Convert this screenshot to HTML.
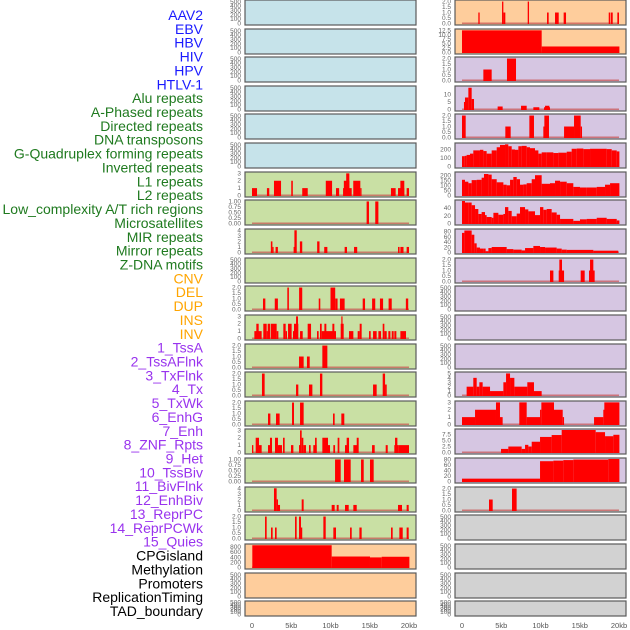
<!DOCTYPE html>
<html><head><meta charset="utf-8">
<style>
html,body{margin:0;padding:0;background:#fff;width:630px;height:630px;overflow:hidden}
svg{display:block;font-family:"Liberation Sans",sans-serif}
</style></head>
<body>
<svg id="chart" width="630" height="630" viewBox="0 0 630 630">
<g id="labels"></g>
<g id="panels"></g>
<g id="xaxes"></g>
</svg>
<script>
// ---- track labels ----
const labelNames = ["AAV2","EBV","HBV","HIV","HPV","HTLV-1","Alu repeats","A-Phased repeats","Directed repeats","DNA transposons","G-Quadruplex forming repeats","Inverted repeats","L1 repeats","L2 repeats","Low_complexity A/T rich regions","Microsatellites","MIR repeats","Mirror repeats","Z-DNA motifs","CNV","DEL","DUP","INS","INV","1_TssA","2_TssAFlnk","3_TxFlnk","4_Tx","5_TxWk","6_EnhG","7_Enh","8_ZNF_Rpts","9_Het","10_TssBiv","11_BivFlnk","12_EnhBiv","13_ReprPC","14_ReprPCWk","15_Quies","CPGisland","Methylation","Promoters","ReplicationTiming","TAD_boundary"];
const labelGroups = [6,13,5,15,5];
const groupColors = ["#1a1aff","#1f7a1f","#ffa500","#9933ee","#000000"];

// ---- axis tick arrays ----
const ticksEmpty = ["0","100","200","300","400","500"];
const ticksEmptyVals = [0,100,200,300,400,500];
const ticks3 = [0,1,2,3];
const ticks4 = [0,1,2,3,4];
const ticks5 = [0,1,2,3,4,5];
const ticks2 = [0,0.5,1,1.5,2];
const ticks1 = [0,0.25,0.5,0.75,1];

// ---- data: [startKb, endKb, value] ----
const L6 = [[0,0.64,1],[1.9,2.2,1],[2.8,3.7,2],[5.0,5.2,2],[6.4,7.1,1],[9.4,10.2,2],[10.7,11.1,1],[11.6,12.7,1],[11.7,12.4,2],[12.0,12.4,3],[12.9,13.8,2],[13.8,13.9,1],[17.7,18.3,1],[18.6,19.4,1],[18.9,19.4,2],[19.7,20,1]];
const L7 = [[14.6,14.9,1],[15.7,16.1,1]];
const L8 = [[2.4,2.6,2],[2.6,2.75,1],[3.0,3.3,1],[5.3,5.4,1],[5.4,5.7,4],[6.1,6.4,2],[8.3,8.6,2],[9.2,9.6,1],[11.8,12.1,1],[13.0,13.4,1],[18.6,18.8,1],[18.9,19.3,1],[19.7,20,1]];
const L10 = [[1.4,1.7,1],[2.9,3.3,1],[4.5,4.7,2],[6.0,6.4,2],[8.5,8.7,1],[10.0,10.6,2],[10.6,10.9,1],[11.2,11.8,1],[14.1,14.4,1],[15.3,15.7,1],[16.3,16.7,1],[17.4,17.8,1],[19.6,19.9,1]];
const L11 = [[0.3,1.23,1],[0.55,0.85,2],[1.44,1.87,2],[1.87,2.0,1],[2.0,2.29,2],[2.38,3.14,2],[3.14,3.36,1],[3.99,4.29,2],[4.29,4.46,1],[4.59,5.05,2],[5.22,5.48,1],[5.35,5.9,2],[5.61,5.86,3],[6.12,6.46,1],[7.09,7.52,2],[8.28,8.49,1],[8.66,8.88,2],[8.88,10.7,1],[9.22,9.47,2],[10.24,10.49,2],[11.3,11.68,2],[11.38,11.51,3],[12.36,12.91,1],[13.46,13.72,1],[13.72,13.97,2],[14.91,15.12,1],[15.42,15.88,1],[16.1,16.44,1],[16.65,16.86,2],[16.86,17.16,1],[17.37,17.63,1],[17.8,18.05,1],[18.13,18.39,1],[18.9,19.62,1]];
const L12 = [[5.99,6.58,1],[7.0,7.35,1],[8.96,9.6,2]];
const L13 = [[1.27,1.61,2],[5.61,5.9,1],[7.26,7.69,1],[8.66,8.96,2],[15.42,15.88,1],[16.65,16.95,2],[16.95,17.16,1]];
const L14 = [[2.04,2.34,1],[3.06,3.52,1],[5.1,5.35,2],[6.12,6.58,2],[10.32,10.53,1],[11.38,11.76,1]];
const L15 = [[0,0.17,1],[0.47,0.89,2],[0.89,1.23,1],[2.04,2.42,1],[2.29,2.55,2],[2.93,3.31,2],[3.31,3.57,1],[3.44,3.82,1],[3.95,4.16,2],[4.97,5.27,1],[5.99,6.24,1],[6.12,6.33,3],[6.33,6.54,2],[6.54,6.88,1],[7.26,7.47,1],[7.81,8.24,1],[8.03,8.24,2],[8.96,9.68,2],[9.64,9.94,1],[10.36,10.58,1],[10.91,11.13,2],[11.85,12.32,1],[12.06,12.36,2],[12.91,13.55,1],[13.34,13.59,2],[15.29,15.63,1],[17.03,17.29,1],[18.13,18.64,1],[18.22,18.52,2],[18.64,20.0,1]];
const L16 = [[10.58,11.3,1],[11.72,12.57,1],[13.89,14.23,1],[15.03,15.5,1]];
const L17 = [[2.8,3.14,4],[3.14,3.31,2],[3.31,3.57,1],[6.33,6.58,2],[10.15,10.53,1],[10.79,11.04,1],[11.85,12.32,1],[12.91,13.34,1],[18.6,19.11,1],[19.7,19.96,1]];
const L18 = [[1.66,1.87,2],[2.42,2.63,1],[2.93,3.14,1],[5.48,5.69,2],[5.99,6.24,2],[6.24,6.4,1],[9.09,9.39,2],[10.36,10.7,1],[12.49,12.7,1],[13.68,13.97,1],[17.71,17.92,1],[18.77,19.2,1],[19.7,19.96,1]];
const L19 = [[0.04,10.15,870],[10.15,15.03,430],[15.03,16.52,395],[16.52,20.05,420]];
const R0 = [[2.08,2.25,1],[5.1,5.27,2],[5.27,5.52,1],[8.37,8.54,2],[10.83,11.04,1],[11.85,12.32,1],[12.95,13.25,1],[18.69,18.86,1],[18.94,19.2,1],[19.79,20.0,1]];
const R1 = [[0,10.15,12.5],[10.15,20.05,3.4]];
const R2 = [[2.72,3.78,1],[5.73,6.88,2]];
const R3 = [[0.25,0.47,5],[0.38,0.81,8],[0.81,1.23,14.5],[1.23,1.53,7],[4.54,5.18,2],[7.52,8.24,2.5],[9.09,9.85,1.5],[10.45,11.21,1.5],[10.58,11.13,2.5]];
const R4 = [[0,0.47,2],[5.52,6.2,1],[8.58,9.17,2],[10.36,10.7,1],[10.49,11.08,2],[13.0,14.27,1],[14.27,15.12,2],[15.12,15.29,1]];
const R5Starts = [0,0.34,0.59,1.02,1.44,2.29,2.72,3.14,3.78,4.42,4.84,5.48,5.9,6.33,6.75,7.18,7.6,8.24,8.66,9.3,9.73,10.15,10.79,11.64,12.27,13.34,13.97,14.61,15.46,16.31,17.58,18.43,19.07,19.71];
const R5Vals = [121,125,136,151,189,196,181,151,189,226,253,260,238,200,196,238,242,226,215,189,151,166,166,158,162,174,208,211,204,208,208,204,189,177];
const R6Starts = [0,0.38,0.81,1.23,1.87,2.5,2.8,3.36,3.78,4.42,5.27,5.69,6.12,6.54,6.97,7.39,7.82,8.24,8.88,9.3,10.15,11.21,11.85,12.49,13.34,14.18,15.03,15.88,17.16,18.22,18.86];
const R6Vals = [157,138,123,154,157,178,215,209,163,132,108,102,157,185,163,108,111,123,163,203,117,123,148,138,123,86,80,80,86,108,123];
const R7Starts = [0,0.38,0.81,1.23,1.66,2.08,2.5,2.93,3.14,3.78,4.0,4.63,5.27,5.48,5.9,6.33,6.97,7.39,8.03,8.45,9.3,9.94,10.36,10.79,11.42,12.06,12.49,14.18,15.03,15.88,17.16,18.43,19.71];
const R7Vals = [59,55,55,48,38,25,30,22,17,15,28,23,25,43,33,19,26,43,37,32,22,43,36,38,29,23,12,7,11,12,15,12,8];
const R8Starts = [0,0.3,1.02,1.23,1.57,1.87,2.29,2.72,3.01,3.36,3.78,5.69,6.54,7.6,8.03,9.09,9.94,10.58,12.06,12.7,13.34,16.73];
const R8Vals = [75,84,84,68,35,19,15,15,5,17,21,13,11,8,17,25,21,19,15,11,10,7];
const R9 = [[11.21,11.64,1],[12.32,13.0,1],[12.4,12.74,2],[15.12,15.63,1],[16.18,16.9,1],[16.31,16.73,2]];
const R13 = [[0.59,1.44,2],[1.44,1.87,4],[1.87,2.21,2],[2.21,2.63,3],[2.63,3.57,2],[3.57,5.27,1],[5.27,5.61,3],[5.61,6.12,5],[6.12,6.67,4],[6.67,8.32,2],[8.32,9.17,3],[9.17,10.15,1]];
const R14 = [[0,1.66,1],[1.66,4.33,2],[4.33,4.84,3],[4.84,5.18,1],[7.3,8.24,3],[8.24,9.94,1],[9.94,10.11,2],[10.11,11.72,3],[11.72,12.83,2],[12.83,13.0,1],[16.82,18.0,1],[18.0,18.13,2],[18.13,20.05,3]];
const R15 = [[4.97,5.9,1.5],[5.9,7.6,2.5],[7.6,8.03,1.5],[8.03,8.45,3.2],[8.45,8.88,2.5],[8.88,9.94,4.5],[9.94,11.42,6.5],[11.42,12.7,7.3],[12.7,17.03,9.4],[17.03,18.22,8.5],[18.22,19.28,6.8],[19.28,20.05,7.4]];
const R16 = [[0,9.94,10.4],[9.94,11.64,74],[11.64,12.91,76],[12.91,14.18,78],[14.18,18.64,80],[18.64,20.05,82]];
const R17 = [[3.44,3.91,1],[6.37,6.96,2]];
const xTickVals = [0,5,10,15,20];
const xTickLabels = ["0","5kb","10kb","15kb","20kb"];

function steps(starts, vals, end){
  const out=[];
  for(let i=0;i<starts.length;i++) out.push([starts[i], i+1<starts.length?starts[i+1]:end, vals[i]]);
  return out;
}

const rowTops = [0,29,57,86,114,143,172,200,229,258,286,315,344,372,401,429,458,487,515,544,573,601];
const BLUE="#c6e3ea",GREEN="#c9e0a4",ORANGE="#fecd9c",PURPLE="#d6c6e2",GRAY="#d2d2d2";

const panels = [];
// left column
for(let r=0;r<22;r++){
  let bg = r<6?BLUE:(r<19?GREEN:ORANGE);
  panels.push({col:0,row:r,bg:bg,ymax:520,ticks:ticksEmptyVals,labels:ticksEmpty,bars:null});
}
// right column
for(let r=0;r<22;r++){
  let bg = r<2?ORANGE:(r<17?PURPLE:GRAY);
  panels.push({col:1,row:r,bg:bg,ymax:520,ticks:ticksEmptyVals,labels:ticksEmpty,bars:null});
}
function setP(col,row,ymax,ticks,labels,bars){
  const p=panels[col*22+row]; p.ymax=ymax; p.ticks=ticks; p.labels=labels; p.bars=bars;
}
const f2 = t=>t.map(v=>v.toFixed(1));
setP(0,6,3.05,ticks3,ticks3.map(String),L6);
setP(0,7,1.02,ticks1,ticks1.map(v=>v.toFixed(2)),L7);
setP(0,8,4.05,ticks4,ticks4.map(String),L8);
setP(0,10,2.05,ticks2,f2(ticks2),L10);
setP(0,11,3.05,ticks3,ticks3.map(String),L11);
setP(0,12,2.05,ticks2,f2(ticks2),L12);
setP(0,13,2.05,ticks2,f2(ticks2),L13);
setP(0,14,2.05,ticks2,f2(ticks2),L14);
setP(0,15,3.05,ticks3,ticks3.map(String),L15);
setP(0,16,1.02,ticks1,ticks1.map(v=>v.toFixed(2)),L16);
setP(0,17,4.05,ticks4,ticks4.map(String),L17);
setP(0,18,2.05,ticks2,f2(ticks2),L18);
setP(0,19,880,[0,200,400,600,800],["0","200","400","600","800"],L19);
setP(1,0,2.05,ticks2,f2(ticks2),R0);
setP(1,1,12.7,[0,2.5,5,7.5,10,12.5],["0.0","2.5","5.0","7.5","10.0","12.5"],R1);
setP(1,2,2.05,ticks2,f2(ticks2),R2);
setP(1,3,15,[0,5,10],["0","5","10"],R3);
setP(1,4,2.05,ticks2,f2(ticks2),R4);
setP(1,5,264,[0,100,200],["0","100","200"],steps(R5Starts,R5Vals,20.05));
setP(1,6,225,[0,50,100,150,200],["0","50","100","150","200"],steps(R6Starts,R6Vals,20.05));
setP(1,7,59,[0,20,40],["0","20","40"],steps(R7Starts,R7Vals,20.05));
setP(1,8,86,[0,20,40,60,80],["0","20","40","60","80"],steps(R8Starts,R8Vals,19.9));
setP(1,9,2.05,ticks2,f2(ticks2),R9);
setP(1,13,5.1,ticks5,ticks5.map(String),R13);
setP(1,14,3.05,ticks3,ticks3.map(String),R14);
setP(1,15,9.4,[0,2.5,5,7.5],["0.0","2.5","5.0","7.5"],R15);
setP(1,16,82,[0,20,40,60,80],["0","20","40","60","80"],R16);
setP(1,17,2.05,ticks2,f2(ticks2),R17);

const NS="http://www.w3.org/2000/svg";
function mk(tag,attrs,parent){const e=document.createElementNS(NS,tag);for(const k in attrs)e.setAttribute(k,attrs[k]);parent.appendChild(e);return e;}

// labels
const lg=document.getElementById('labels');
let idx=0;
labelGroups.forEach((n,g)=>{
  for(let i=0;i<n;i++){
    const t=mk('text',{x:203,y:(15+idx*13.86+5).toFixed(1),'text-anchor':'end','font-size':'14',fill:groupColors[g]},lg);
    t.textContent=labelNames[idx];
    
    
    idx++;
  }
});

// panels
const pg=document.getElementById('panels');
const colX=[[245,416,252],[455,626,462]];
const pxPerKb=157/20;
panels.forEach(p=>{
  const [x0,x1,zeroX]=colX[p.col];
  const top=rowTops[p.row];
  const h = p.row===21?15:25;
  const bottom=top+h;
  const g=mk('g',{},pg);
  
  
  const bgR=mk('rect',{x:x0,y:top,width:x1-x0,height:h,fill:p.bg,stroke:'#5a5a5a','stroke-width':1.2},g);
  
  
  const yScale=v=>bottom-1.5-(v/p.ymax)*(h-2.5);
  const xScale=kb=>zeroX+kb*pxPerKb;
  // ticks
  p.ticks.forEach((v,i)=>{
    const t=mk('text',{x:x0-4,y:(yScale(v)+2).toFixed(1),'text-anchor':'end','font-size':'6.5',fill:'#666'},g);
    t.textContent=p.labels[i];
    
    
  });
  if(p.bars){
    const bl=mk('rect',{x:xScale(0),y:bottom-2.5,width:xScale(20)-xScale(0),height:1.5,fill:'#c85050','fill-opacity':0.7},g);
    
    
    p.bars.forEach(b=>{
      const xa=xScale(b[0]), xb=xScale(b[1]);
      const yv=Math.max(yScale(b[2]),top+0.6);
      const r=mk('rect',{x:xa.toFixed(2),y:yv.toFixed(2),width:Math.max(xb-xa,1.2).toFixed(2),height:(bottom-1-yv).toFixed(2),fill:'#ff0000'},g);
      
      
    });
  }
});

// x axes
const xg=document.getElementById('xaxes');
colX.forEach(c=>{
  xTickVals.forEach((v,i)=>{
    const t=mk('text',{x:(c[2]+v*pxPerKb).toFixed(1),y:628,'text-anchor':'middle','font-size':'7.5',fill:'#555'},xg);
    t.textContent=xTickLabels[i];
    
    
  });
});
</script>
</body></html>
